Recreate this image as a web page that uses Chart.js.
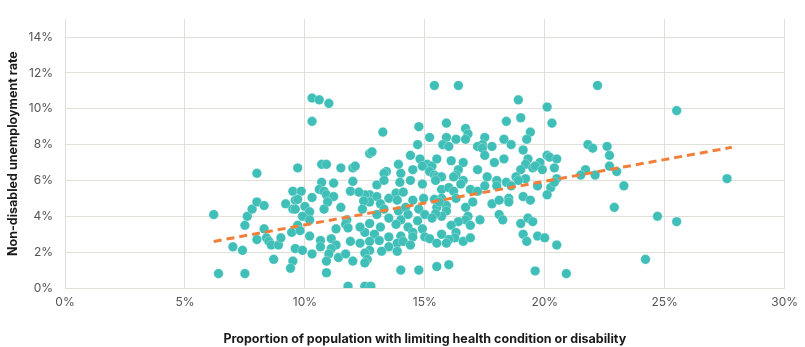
<!DOCTYPE html>
<html>
<head>
<meta charset="utf-8">
<script src="https://cdn.jsdelivr.net/npm/chart.js@4.4.1/dist/chart.umd.min.js"></script>
<style>
html,body{margin:0;padding:0;background:#fff;}
#wrap{width:805px;height:347px;position:relative;}
</style>
</head>
<body>
<div id="wrap"><canvas id="c" width="805" height="347"></canvas></div>
<script>
// Proportion with limiting health condition or disability (%)
const xValues = [
6.2,6.4,7.5,7.0,7.4,7.5,7.6,7.8,8.0,8.3,8.0,8.0,8.3,8.4,8.5,8.6,8.9,9.0,8.7,9.2,9.5,9.5,9.6,9.45,9.6,9.5,9.4,9.7,9.7,
10.3,10.6,11.0,10.3,10.7,10.9,11.5,12.0,12.1,12.7,
15.4,13.25,14.75,15.2,14.7,12.8,14.4,13.9,14.8,15.1,14.9,15.3,15.5,13.4,13.3,14.0,14.5,15.2,15.4,14.4,
16.4,15.9,16.7,16.8,15.9,15.75,16.0,16.3,16.7,17.5,17.4,17.2,17.4,17.8,18.4,18.3,16.1,16.6,17.5,17.9,18.3,16.4,16.3,17.2,17.6,15.5,15.7,
18.9,20.1,20.3,19.0,19.4,19.25,18.6,19.1,19.3,20.1,20.2,20.5,19.8,19.2,19.5,19.6,19.9,20.4,19.0,18.8,19.2,20.5,
22.2,25.5,21.8,22.0,22.6,22.7,22.7,23.0,21.7,21.5,22.1,23.3,22.9,24.7,25.5,24.2,27.6,
18.4,18.9,18.6,19.7,20.25,20.4,20.1,18.5,18.5,19.1,19.4,19.0,19.3,19.5,19.1,19.25,19.7,20.0,20.5,19.6,20.9,
16.2,16.6,18.0,15.7,16.0,16.2,16.5,16.9,17.2,17.5,18.0,15.7,15.9,15.9,15.5,15.7,16.3,16.7,17.0,17.8,18.1,18.1,18.25,17.3,16.8,16.7,16.9,16.4,16.1,16.3,15.7,16.25,16.0,15.9,16.6,16.9,15.5,16.0,
13.0,13.3,13.96,14.9,15.45,12.7,13.0,13.5,13.8,14.1,14.5,14.95,15.4,15.6,12.5,12.7,13.15,13.85,13.3,13.9,14.2,14.75,15.0,15.45,13.0,13.5,14.0,14.3,14.7,15.3,12.7,13.15,13.8,14.3,14.5,14.9,12.5,12.9,13.5,14.0,14.5,12.7,13.1,13.85,14.1,14.4,15.0,15.2,15.5,13.5,13.85,13.2,12.7,12.5,12.6,12.5,14.0,14.75,
9.85,10.7,11.2,12.0,10.6,10.8,10.9,11.2,11.9,12.25,9.7,10.3,10.95,12.45,10.0,10.8,11.5,12.4,9.6,10.2,9.9,10.2,11.75,11.7,11.8,12.3,11.3,9.8,10.2,10.65,11.1,11.9,12.3,11.3,10.65,11.1,9.9,10.3,11.0,11.4,11.7,12.0,10.9,10.9,
11.8,12.5,12.75
];
// Non-disabled unemployment rate (%)
const yValues = [
4.1,0.8,0.8,2.3,2.1,3.5,4.0,4.4,4.8,4.6,6.4,2.7,3.3,2.8,2.6,2.4,2.4,2.8,1.6,4.7,4.4,5.4,4.9,3.1,2.2,1.5,1.1,6.7,3.5,
10.6,10.5,10.3,9.3,6.9,6.9,6.7,6.7,6.8,7.5,
11.3,8.7,9.0,8.4,8.0,7.6,7.4,6.9,7.2,6.9,6.8,6.8,7.2,6.5,6.4,6.4,6.6,6.5,6.3,6.0,
11.3,9.2,8.9,8.6,8.4,8.0,7.9,8.3,8.3,8.4,8.0,7.9,7.8,7.9,9.3,8.3,7.1,7.0,7.4,7.0,7.2,6.6,6.3,6.6,6.2,6.2,6.2,
10.5,10.1,9.2,9.5,8.7,8.3,8.0,7.7,7.2,7.4,7.3,7.2,7.0,6.9,6.7,6.8,6.6,6.7,6.6,6.2,6.1,6.1,
11.3,9.9,8.0,7.8,7.9,7.4,6.8,6.5,6.6,6.3,6.3,5.7,4.5,4.0,3.7,1.6,6.1,
5.9,6.0,5.7,5.7,5.6,5.9,5.2,5.0,4.8,5.1,4.9,3.6,3.9,3.7,3.0,2.6,2.9,2.8,2.4,0.95,0.8,
6.2,6.0,6.0,5.5,5.6,5.4,5.8,5.5,5.4,5.7,5.7,5.0,4.6,4.3,4.5,4.0,5.0,4.5,4.8,4.7,4.9,4.1,3.8,3.8,4.0,3.8,3.5,3.7,3.5,3.1,3.0,2.8,2.7,2.5,2.6,2.8,1.2,1.3,
5.75,6.0,5.9,5.8,6.0,5.2,5.1,5.0,5.3,5.35,4.9,5.0,4.95,4.8,5.2,4.8,4.7,4.9,4.4,4.3,4.5,4.4,4.1,4.15,4.1,3.9,3.8,4.1,3.75,3.9,3.6,3.4,3.55,3.4,3.1,3.3,3.1,3.0,2.85,2.9,2.85,2.6,2.65,2.5,2.6,2.4,2.85,2.75,2.5,2.3,2.05,2.05,2.1,1.95,1.6,1.4,1.0,1.0,
5.4,5.9,5.85,5.95,5.5,5.4,5.2,5.1,5.4,5.35,4.95,5.05,4.8,4.85,4.55,4.4,4.5,4.4,4.4,4.25,4.0,3.8,3.8,3.55,3.35,3.4,3.3,3.2,2.9,2.65,2.75,2.6,2.5,2.4,2.3,2.2,2.1,1.9,1.9,1.7,1.9,1.5,1.5,0.85,
0.1,0.1,0.1
];
// Fitted trend line
const trendX = [6.2, 27.8];
const trendY = [2.6, 7.85];
const xTicks = [0,5,10,15,20,25,30];
const yTicks = [0,2,4,6,8,10,12,14];

const points = xValues.map((x,i)=>({x:x, y:yValues[i]}));
const trend = trendX.map((x,i)=>({x:x, y:trendY[i]}));

const gridColor = '#e2dfd9';
const tickFont = {family:'Inter, Roboto, sans-serif', size:12};
const titleFont = {family:'Inter, Roboto, sans-serif', size:12.5, weight:'bold'};

new Chart(document.getElementById('c'), {
  type: 'scatter',
  data: {
    datasets: [
      {
        type:'line', data: trend, order: 0,
        borderColor:'#f07f3c', borderWidth:3, borderDash:[8,5],
        pointRadius:0, fill:false, showLine:true
      },
      {
        data: points, order: 1,
        backgroundColor:'#3fbfb7', borderColor:'rgba(255,255,255,0.45)', borderWidth:0.6,
        pointRadius:4.8, pointHoverRadius:4.8
      }
    ]
  },
  options: {
    responsive:false, animation:false,
    layout:{padding:{top:5,right:20,left:0,bottom:0}},
    plugins:{legend:{display:false}, tooltip:{enabled:false}},
    scales:{
      x:{
        type:'linear', min:0, max:30,
        afterBuildTicks:(a)=>{a.ticks = xTicks.map(v=>({value:v}));},
        afterFit:(s)=>{s.height = 59;},
        grid:{color:gridColor, drawTicks:false, lineWidth:1},
        border:{color:gridColor},
        ticks:{padding:7, color:'#555', font:tickFont, callback:(v)=>v+'%', maxRotation:0},
        title:{display:true, text:'Proportion of population with limiting health condition or disability',
               color:'#1a1a1a', font:titleFont, padding:{top:0,bottom:0}}
      },
      y:{
        type:'linear', min:0, max:15,
        afterBuildTicks:(a)=>{a.ticks = yTicks.map(v=>({value:v}));},
        afterFit:(s)=>{s.width = 65;},
        grid:{color:gridColor, drawTicks:false, lineWidth:1},
        border:{color:gridColor},
        ticks:{padding:12, color:'#555', font:tickFont, callback:(v)=>v+'%'},
        title:{display:true, text:'Non-disabled unemployment rate',
               color:'#1a1a1a', font:titleFont, padding:{top:6,bottom:2}}
      }
    }
  }
});
</script>
</body>
</html>
